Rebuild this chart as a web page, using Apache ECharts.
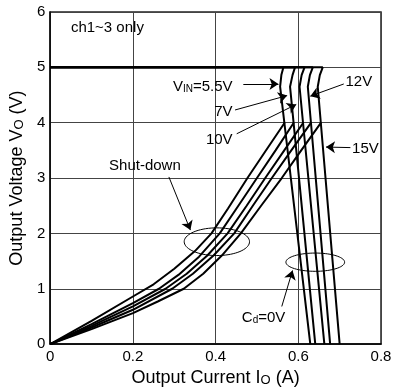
<!DOCTYPE html>
<html>
<head>
<meta charset="utf-8">
<script src="https://cdn.jsdelivr.net/npm/echarts@6/dist/echarts.min.js"></script>
<style>
html, body { margin: 0; padding: 0; background: #fff; }
#main { width: 395px; height: 392px; }
</style>
</head>
<body>
<div id="main"></div>
<script>
const FONT = '"Liberation Sans", Arial, sans-serif';

const xTicks = [0, 0.2, 0.4, 0.6, 0.8];
const yTicks = [0, 1, 2, 3, 4, 5, 6];
const vinNames = ['5.5V', '7V', '10V', '12V', '15V'];

// regulated 5V then current-limit drop, per VIN
const limit55 = [[0, 5], [0.564, 5], [0.559, 4.86], [0.556, 4.65], [0.629, 0]];
const limit7 = [[0, 5], [0.592, 5], [0.586, 4.86], [0.580, 4.65], [0.641, 0]];
const limit10 = [[0, 5], [0.615, 5], [0.608, 4.86], [0.603, 4.65], [0.663, 0]];
const limit12 = [[0, 5], [0.635, 5], [0.628, 4.86], [0.623, 4.65], [0.677, 0]];
const limit15 = [[0, 5], [0.659, 5], [0.652, 4.86], [0.647, 4.65], [0.700, 0]];

// shut-down branch, per VIN
const shut55 = [[0, 0], [0.1, 0.42], [0.2, 0.86], [0.25, 1.08], [0.3, 1.36], [0.35, 1.68], [0.39, 2.0], [0.43, 2.45], [0.477, 3.0], [0.52, 3.48], [0.567, 4.0]];
const shut7 = [[0, 0], [0.1, 0.36], [0.2, 0.74], [0.263, 1.0], [0.31, 1.25], [0.36, 1.58], [0.41, 2.0], [0.455, 2.5], [0.50, 3.0], [0.545, 3.5], [0.589, 4.0]];
const shut10 = [[0, 0], [0.1, 0.33], [0.2, 0.68], [0.279, 1.0], [0.33, 1.27], [0.38, 1.6], [0.429, 2.0], [0.475, 2.5], [0.52, 3.0], [0.566, 3.5], [0.612, 4.0]];
const shut12 = [[0, 0], [0.1, 0.30], [0.2, 0.62], [0.295, 1.0], [0.345, 1.27], [0.395, 1.6], [0.445, 2.0], [0.49, 2.5], [0.536, 3.0], [0.583, 3.5], [0.631, 4.0]];
const shut15 = [[0, 0], [0.1, 0.27], [0.2, 0.56], [0.26, 0.77], [0.323, 1.0], [0.37, 1.27], [0.415, 1.6], [0.461, 2.0], [0.51, 2.5], [0.56, 3.0], [0.607, 3.5], [0.655, 4.0]];

// annotations (data coordinates)
const textNotes = [
  { text: '{m|ch1~3 only}', x: 0.050, y: 5.74, align: 'left' },
  { text: '{m|Shut-down}', x: 0.229, y: 3.23, align: 'center' },
  { text: '{m|V}{s|IN}{m|=5.5V}', x: 0.441, y: 4.67, align: 'right' },
  { text: '{m|7V}', x: 0.441, y: 4.21, align: 'right' },
  { text: '{m|10V}', x: 0.441, y: 3.70, align: 'right' },
  { text: '{m|12V}', x: 0.714, y: 4.76, align: 'left' },
  { text: '{m|15V}', x: 0.730, y: 3.55, align: 'left' },
  { text: '{m|C}{d|d}{m|=0V}', x: 0.516, y: 0.50, align: 'center' }
];
const arrowNotes = [
  [[0.467, 4.70], [0.552, 4.70]],
  [[0.447, 4.23], [0.573, 4.49]],
  [[0.451, 3.80], [0.595, 4.33]],
  [[0.710, 4.70], [0.629, 4.48]],
  [[0.726, 3.55], [0.667, 3.56]],
  [[0.287, 3.02], [0.339, 2.06]],
  [[0.560, 0.68], [0.586, 1.33]]
];
const ellipseNotes = [
  { x: 0.403, y: 1.85, w: 0.158, h: 0.50 },
  { x: 0.641, y: 1.48, w: 0.142, h: 0.33 }
];

const richStyles = {
  m: { fontSize: 15, fontFamily: FONT, fill: '#000', color: '#000', verticalAlign: 'bottom', lineHeight: 17 },
  s: { fontSize: 10, fontFamily: FONT, fill: '#000', color: '#000', verticalAlign: 'bottom', lineHeight: 14 },
  d: { fontSize: 10, fontFamily: FONT, fill: '#000', color: '#000', verticalAlign: 'bottom', lineHeight: 12 }
};

const chart = echarts.init(document.getElementById('main'));

const lineStyle = { color: '#000', width: 2 };
const limits = [limit55, limit7, limit10, limit12, limit15];
const shuts = [shut55, shut7, shut10, shut12, shut15];

const series = [];
limits.forEach((d, i) => {
  series.push({ name: vinNames[i], type: 'line', data: d, showSymbol: false, lineStyle: lineStyle, z: 3 });
});
shuts.forEach((d, i) => {
  series.push({ name: vinNames[i] + ' shut', type: 'line', data: d, showSymbol: false, lineStyle: lineStyle, z: 3 });
});

series.push({
  type: 'lines',
  coordinateSystem: 'cartesian2d',
  data: arrowNotes.map(c => ({ coords: c })),
  symbol: ['none', 'arrow'],
  symbolSize: [6, 9],
  lineStyle: { color: '#000', width: 1, opacity: 1 },
  z: 4
});

series.push({
  type: 'custom',
  data: ellipseNotes.map(e => [e.x, e.y]),
  encode: { x: 0, y: 1 },
  renderItem: function (params, api) {
    const e = ellipseNotes[params.dataIndex];
    const c = api.coord([e.x, e.y]);
    const s = api.size([e.w, e.h]);
    const pts = [];
    for (let k = 0; k < 72; k++) {
      const a = k / 72 * Math.PI * 2;
      pts.push([c[0] + s[0] / 2 * Math.cos(a), c[1] + s[1] / 2 * Math.sin(a)]);
    }
    return { type: 'polygon', shape: { points: pts }, style: { fill: 'none', stroke: '#000', lineWidth: 1 } };
  },
  z: 4
});

series.push({
  type: 'custom',
  data: textNotes.map(n => [n.x, n.y]),
  encode: { x: 0, y: 1 },
  renderItem: function (params, api) {
    const n = textNotes[params.dataIndex];
    const p = api.coord([n.x, n.y]);
    return {
      type: 'text', x: p[0], y: p[1],
      style: { text: n.text, rich: richStyles, align: n.align, verticalAlign: 'middle', fill: '#000', font: '15px ' + FONT }
    };
  },
  z: 5
});

const option = {
  animation: false,
  backgroundColor: '#fff',
  grid: { left: 44, right: 14, top: 12, bottom: 42, show: true, borderColor: '#222', borderWidth: 1.5 },
  xAxis: {
    type: 'value', min: xTicks[0], max: xTicks[xTicks.length - 1], interval: 0.2,
    axisLine: { show: true, lineStyle: { color: '#000', width: 1.5 } },
    axisTick: { show: false },
    splitLine: { show: true, lineStyle: { color: '#444', width: 1 } },
    axisLabel: { color: '#000', fontSize: 15, fontFamily: FONT, margin: 5, formatter: v => v === 0 ? '0' : v.toFixed(1) },
    name: '{m|Output Current I}{s|O}{m| (A)}',
    nameLocation: 'middle', nameGap: 22,
    nameTextStyle: {
      rich: {
        m: { fontSize: 18, fontFamily: FONT, color: '#000', verticalAlign: 'bottom', lineHeight: 20 },
        s: { fontSize: 13, fontFamily: FONT, color: '#000', verticalAlign: 'bottom', lineHeight: 16 }
      }
    }
  },
  yAxis: {
    type: 'value', min: yTicks[0], max: yTicks[yTicks.length - 1], interval: 1,
    axisLine: { show: true, lineStyle: { color: '#000', width: 1.5 } },
    axisTick: { show: false },
    splitLine: { show: true, lineStyle: { color: '#444', width: 1 } },
    axisLabel: { color: '#000', fontSize: 15, fontFamily: FONT, margin: 5 },
    name: '{m|Output Voltage V}{s|O}{m| (V)}',
    nameLocation: 'middle', nameGap: 23,
    nameTextStyle: {
      rich: {
        m: { fontSize: 18, fontFamily: FONT, color: '#000', verticalAlign: 'bottom', lineHeight: 20 },
        s: { fontSize: 13, fontFamily: FONT, color: '#000', verticalAlign: 'bottom', lineHeight: 16 }
      }
    }
  },
  series: series
};

chart.setOption(option);
</script>
</body>
</html>
